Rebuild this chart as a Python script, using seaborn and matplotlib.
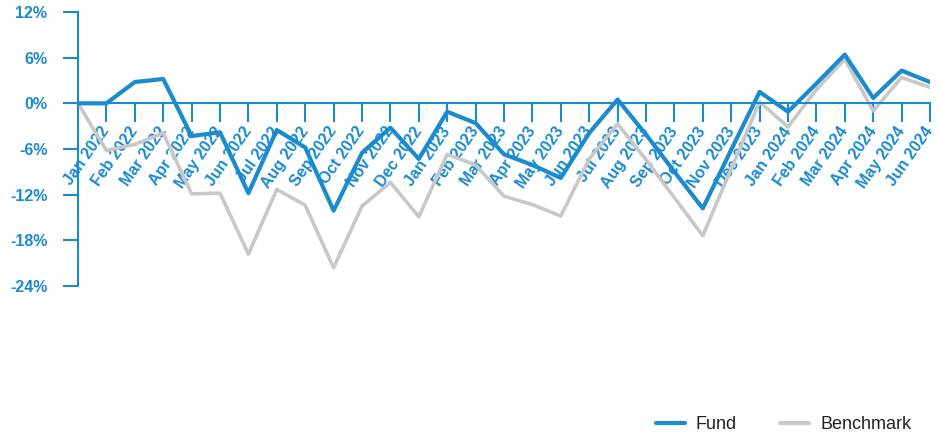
import numpy as np
import pandas as pd
import matplotlib
matplotlib.use("Agg")
import matplotlib.pyplot as plt
from matplotlib.lines import Line2D
import seaborn as sns

# Monthly cumulative returns (%), first point is the common starting value
months = ["", "Jan 2022", "Feb 2022", "Mar 2022", "Apr 2022", "May 2022", "Jun 2022",
          "Jul 2022", "Aug 2022", "Sep 2022", "Oct 2022", "Nov 2022", "Dec 2022",
          "Jan 2023", "Feb 2023", "Mar 2023", "Apr 2023", "May 2023", "Jun 2023",
          "Jul 2023", "Aug 2023", "Sep 2023", "Oct 2023", "Nov 2023", "Dec 2023",
          "Jan 2024", "Feb 2024", "Mar 2024", "Apr 2024", "May 2024", "Jun 2024"]
fund = [0.0, 0.0, 2.8, 3.2, -4.3, -3.8, -11.8, -3.5, -5.8, -14.1, -6.5, -3.2, -7.3,
        -1.1, -2.6, -6.7, -8.1, -9.8, -3.9, 0.5, -4.1, -9.0, -13.8, -6.1, 1.5,
        -1.1, 2.6, 6.4, 0.7, 4.3, 2.8]
benchmark = [0.0, -6.2, -5.4, -3.9, -11.9, -11.8, -19.8, -11.3, -13.4, -21.6, -13.5, -10.4, -14.9,
             -6.7, -8.1, -12.2, -13.3, -14.8, -7.3, -2.7, -7.4, -12.4, -17.4, -8.6, 0.2,
             -3.1, 1.8, 5.8, -1.0, 3.4, 2.1]
y_ticks = [-24, -18, -12, -6, 0, 6, 12]

blue = "#1b8bd0"
grey = "#c8c8c8"

sns.set_style("white")
plt.rcParams["font.family"] = ["Liberation Sans", "DejaVu Sans"]

df = pd.DataFrame({"step": np.arange(len(months)), "Fund": fund, "Benchmark": benchmark})

fig = plt.figure(figsize=(9.4, 4.34), dpi=100)
ax = fig.add_axes([78 / 940, 1 - 286 / 434, (930 - 78) / 940, (286 - 12) / 434])

sns.lineplot(data=df, x="step", y="Benchmark", color=grey, lw=2.6, ax=ax)
sns.lineplot(data=df, x="step", y="Fund", color=blue, lw=3.0, ax=ax)

ax.set_xlim(0, len(months) - 1)
ax.set_ylim(-24, 12)
ax.set_xlabel("")
ax.set_ylabel("")

for s in ["top", "right"]:
    ax.spines[s].set_visible(False)
for s in ["left", "bottom"]:
    ax.spines[s].set_color(blue)
    ax.spines[s].set_linewidth(1.5)
ax.spines["bottom"].set_position(("data", 0))

ax.set_yticks(y_ticks)
ax.set_yticklabels([f"{v}%" for v in y_ticks])
ax.set_xticks(np.arange(1, len(months)))
ax.set_xticklabels(months[1:], rotation=55, ha="right", va="center", rotation_mode="anchor")

ax.tick_params(axis="y", left=True, direction="out", length=11, width=1.5, color=blue,
               labelcolor=blue, labelsize=11.5, pad=11)
ax.tick_params(axis="x", bottom=True, direction="out", length=14, width=1.5, color=blue,
               labelcolor=blue, labelsize=11.5, pad=4)
for lab in ax.get_xticklabels() + ax.get_yticklabels():
    lab.set_fontweight("bold")

handles = [Line2D([], [], color=blue, lw=3.0), Line2D([], [], color=grey, lw=3.0)]
fig.legend(handles, ["Fund", "Benchmark"], loc="center right", bbox_to_anchor=(0.979, 0.022),
           ncol=2, frameon=False, fontsize=13, handlelength=1.6, handletextpad=0.6,
           columnspacing=2.4, borderpad=0, labelcolor="#222222")

fig.savefig("out.png", dpi=100)
